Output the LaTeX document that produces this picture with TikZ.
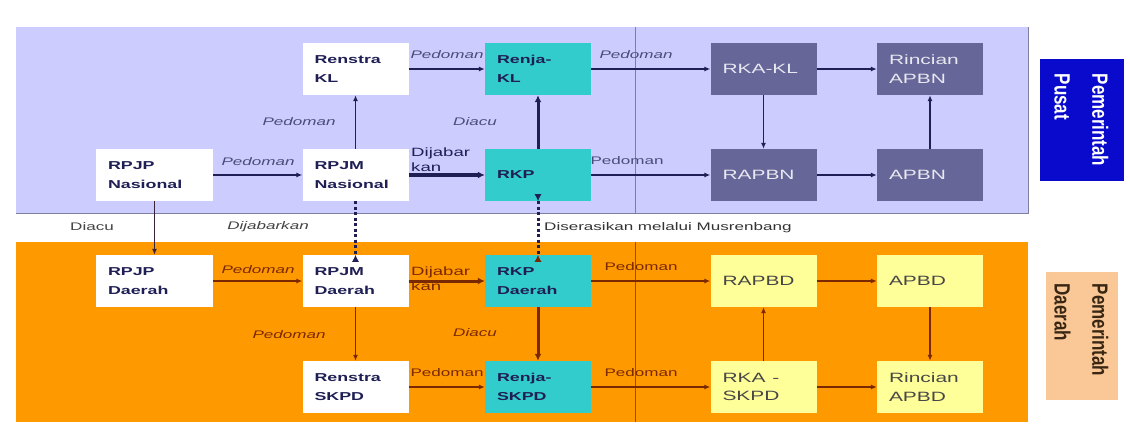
\documentclass[tikz,border=0pt]{standalone}
\usepackage{fontspec}
\setmainfont{Liberation Sans}
\usepackage{graphicx}
\usetikzlibrary{arrows.meta}
\definecolor{lav}{HTML}{CCCCFF}
\definecolor{lavline}{HTML}{7E7EA0}
\definecolor{org}{HTML}{FF9900}
\definecolor{tealc}{HTML}{33CCCC}
\definecolor{slate}{HTML}{666699}
\definecolor{yel}{HTML}{FFFF99}
\definecolor{navyc}{HTML}{1F1F55}
\definecolor{brn}{HTML}{7A2800}
\definecolor{pblue}{HTML}{0A0ACC}
\definecolor{peach}{HTML}{F9C896}
\definecolor{lblgray}{HTML}{444444}
\newcommand\X[1]{\scalebox{1.55}[1]{#1}}
\tikzset{
  base/.style={minimum width=106pt, minimum height=52pt, text width=82pt,
    inner xsep=12pt, inner ysep=0pt, align=left},
  wide/.style={minimum width=117pt, text width=93pt},
  wbox/.style={base, fill=white, text=navyc, font=\fontsize{11.5}{19}\selectfont\bfseries},
  tbox/.style={base, fill=tealc, text=navyc, font=\fontsize{11.5}{18.5}\selectfont\bfseries},
  sbox/.style={base, fill=slate, text=white!85!slate, font=\fontsize{13.5}{18.5}\selectfont},
  ybox/.style={base, fill=yel, text=black!72, font=\fontsize{13.5}{18.5}\selectfont},
  arrn/.style={draw=navyc, line width=1.3pt, -{Latex[length=6pt,width=5pt]}},
  arrb/.style={draw=brn, line width=1.3pt, -{Latex[length=6pt,width=5pt]}},
  thickn/.style={draw=navyc, line width=3pt, -{Latex[length=7pt,width=7pt]}},
  thickb/.style={draw=brn, line width=3pt, -{Latex[length=7pt,width=7pt]}},
  dotn/.style={draw=navyc, line width=3pt, dash pattern=on 3pt off 2.5pt},
  lbln/.style={text=navyc!80, font=\fontsize{11}{13}\selectfont\itshape, inner sep=0pt},
  lblb/.style={text=brn, font=\fontsize{11}{13}\selectfont\itshape, inner sep=0pt},
  lblstrip/.style={text=lblgray, font=\fontsize{11}{13}\selectfont, inner sep=0pt},
  dijab/.style={align=left, font=\fontsize{12}{15}\selectfont, inner sep=0pt, anchor=west},
}
\begin{document}
\begin{tikzpicture}[x=1pt,y=-1pt]
\path[use as bounding box, fill=white] (0,0) rectangle (1130,425);
% panels
\fill[lav] (16,27) rectangle (1028,213);
\draw[lavline, line width=1pt] (16,213) -- (1028,213) -- (1028,27);
\fill[org] (16,242) rectangle (1028,422);
\draw[lavline, line width=1pt] (635,27) -- (635,213);
\draw[brn!70!org, line width=1pt] (635,242) -- (635,422);

% top nodes
\node[wbox] (RenstraKL) at (355.5,69) {\X{Renstra}\\\X{KL}};
\node[tbox] (RenjaKL) at (538,69) {\X{Renja-}\\\X{KL}};
\node[sbox] (RKAKL) at (763.5,69) {\X{RKA-KL}};
\node[sbox] (RincianAPBN) at (930,69) {\X{Rincian}\\\X{APBN}};
\node[wbox, wide] (RPJPN) at (154.5,175) {\X{RPJP}\\\X{Nasional}};
\node[wbox] (RPJMN) at (355.5,175) {\X{RPJM}\\\X{Nasional}};
\node[tbox] (RKP) at (538,175) {\X{RKP}};
\node[sbox] (RAPBN) at (763.5,175) {\X{RAPBN}};
\node[sbox] (APBN) at (930,175) {\X{APBN}};
% bottom nodes
\node[wbox, wide] (RPJPD) at (154.5,281) {\X{RPJP}\\\X{Daerah}};
\node[wbox] (RPJMD) at (355.5,281) {\X{RPJM}\\\X{Daerah}};
\node[tbox] (RKPD) at (538,281) {\X{RKP}\\\X{Daerah}};
\node[ybox] (RAPBD) at (763.5,281) {\X{RAPBD}};
\node[ybox] (APBD) at (930,281) {\X{APBD}};
\node[wbox] (RenstraSKPD) at (355.5,387) {\X{Renstra}\\\X{SKPD}};
\node[tbox] (RenjaSKPD) at (538,387) {\X{Renja-}\\\X{SKPD}};
\node[ybox] (RKASKPD) at (763.5,387) {\X{RKA -}\\\X{SKPD}};
\node[ybox] (RincianAPBD) at (930,387) {\X{Rincian}\\\X{APBD}};

% right labels
\node[fill=pblue, minimum width=84pt, minimum height=121pt, inner sep=0pt] (pusat) at (1082,120) {};
\node[rotate=-90, text=white, inner sep=0pt, font=\fontsize{17}{29}\selectfont\bfseries] (pusatT) at (1081,120)
  {\scalebox{1}[1.3]{\begin{tabular}{@{}l@{}}Pemerintah\\Pusat\end{tabular}}};
\node[fill=peach, minimum width=72pt, minimum height=128pt, inner sep=0pt] (daerah) at (1082,336) {};
\node[rotate=-90, text=black!70!brown, inner sep=0pt, font=\fontsize{17}{29}\selectfont\bfseries] (daerahT) at (1081,330)
  {\scalebox{1}[1.3]{\begin{tabular}{@{}l@{}}Pemerintah\\Daerah\end{tabular}}};

% top connectors
\draw[arrn] (RenstraKL) -- (RenjaKL);
\draw[arrn] (RenjaKL) -- (RKAKL);
\draw[arrn] (RKAKL) -- (RincianAPBN);
\draw[arrn] (RKAKL) -- (RAPBN);
\draw[arrn] (RAPBN) -- (APBN);
\draw[arrn] (APBN) -- (RincianAPBN);
\draw[arrn] (RPJPN) -- (RPJMN);
\draw[arrn] (RPJMN) -- (RenstraKL);
\draw[thickn] (RPJMN) -- (RKP);
\draw[thickn] (RKP) -- (RenjaKL);
\draw[arrn] (RKP) -- (RAPBN);
% cross connectors
\draw[arrn, draw=navyc!70!brn] (RPJPN) -- (RPJPD);
\draw[dotn] (RPJMN.south) -- (RPJMD.north);
\draw[draw=navyc, -{Latex[length=7pt,width=7pt]}, line width=1pt] ([yshift=-7pt]RPJMD.north) -- (RPJMD.north);
\draw[dotn] (RKP.south) -- (RKPD.north);
\draw[draw=navyc, -{Latex[length=7pt,width=7pt]}, line width=1pt] ([yshift=7pt]RKP.south) -- (RKP.south);
\draw[draw=brn, -{Latex[length=7pt,width=7pt]}, line width=1pt] ([yshift=-7pt]RKPD.north) -- (RKPD.north);
% bottom connectors
\draw[arrb] (RPJPD) -- (RPJMD);
\draw[arrb] (RPJMD) -- (RenstraSKPD);
\draw[thickb] (RPJMD) -- (RKPD);
\draw[thickb] (RKPD) -- (RenjaSKPD);
\draw[arrb] (RenstraSKPD) -- (RenjaSKPD);
\draw[arrb] (RKPD) -- (RAPBD);
\draw[arrb] (RenjaSKPD) -- (RKASKPD);
\draw[arrb] (RKASKPD) -- (RAPBD);
\draw[arrb] (RAPBD) -- (APBD);
\draw[arrb] (APBD) -- (RincianAPBD);
\draw[arrb] (RKASKPD) -- (RincianAPBD);

% labels top
\node[lbln] (l1) at (447,55) {\X{Pedoman}};
\node[lbln] (l2) at (636,55) {\X{Pedoman}};
\node[lbln] (l3) at (258,162) {\X{Pedoman}};
\node[lbln] (l4) at (299,122) {\X{Pedoman}};
\node[dijab, text=navyc] (l5) at (411,160) {\X{Dijabar}\\\X{kan}};
\node[lbln] (l6) at (475,122) {\X{Diacu}};
\node[lbln, font=\fontsize{11}{13}\selectfont] (l7) at (627,161) {\X{Pedoman}};
% labels strip
\node[lblstrip] (s1) at (92,227) {\X{Diacu}};
\node[lblstrip, font=\fontsize{11}{13}\selectfont\itshape] (s2) at (268,227) {\X{Dijabarkan}};
\node[lblstrip, anchor=west, text=black!80] (s3) at (544,228) {\X{Diserasikan melalui Musrenbang}};
% labels bottom
\node[lblb] (b1) at (258,270) {\X{Pedoman}};
\node[lblb] (b2) at (289,335) {\X{Pedoman}};
\node[dijab, text=brn] (b3) at (411,279) {\X{Dijabar}\\\X{kan}};
\node[lblb] (b4) at (475,333) {\X{Diacu}};
\node[lblb, font=\fontsize{11}{13}\selectfont] (b5) at (447,373) {\X{Pedoman}};
\node[lblb, font=\fontsize{11}{13}\selectfont] (b6) at (641,267) {\X{Pedoman}};
\node[lblb, font=\fontsize{11}{13}\selectfont] (b7) at (641,373) {\X{Pedoman}};
\end{tikzpicture}
\end{document}
